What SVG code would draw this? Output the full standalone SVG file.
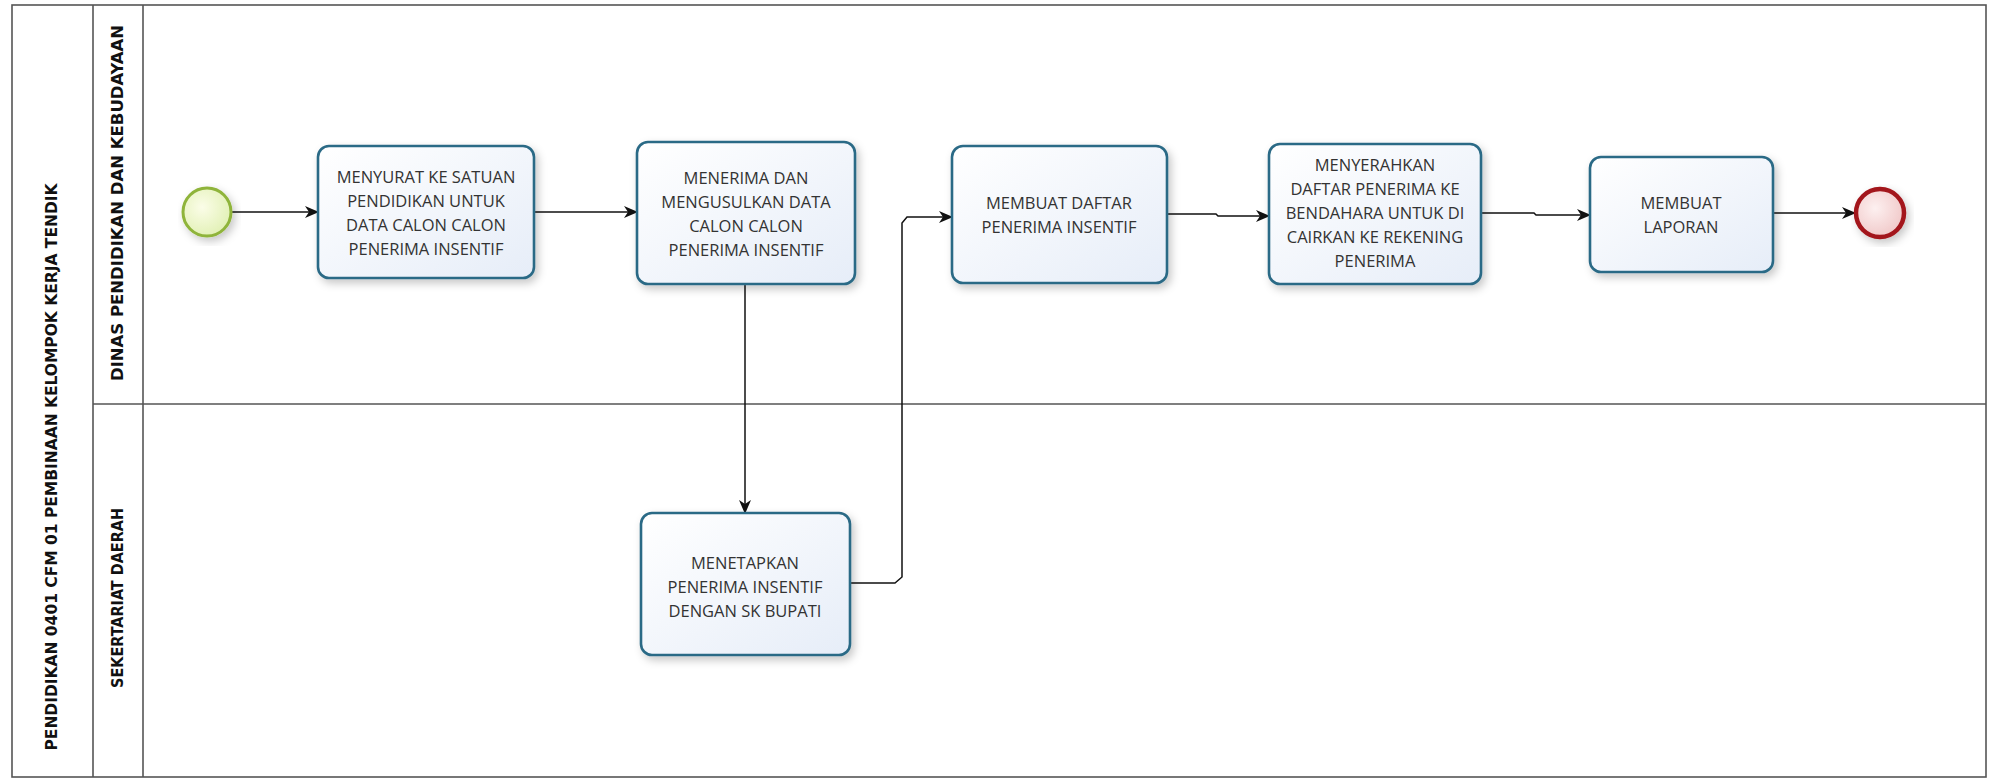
<svg xmlns="http://www.w3.org/2000/svg" width="1992" height="781" viewBox="0 0 1992 781">
<style>
.frame{fill:none;stroke:#555;stroke-width:1.6}
.task{stroke:#2c6a86;stroke-width:2.6;fill:url(#tg)}
.tt{font-family:"Open Sans","Noto Sans","Liberation Sans",sans-serif;font-size:16.5px;fill:#333;text-anchor:middle}
.lbl{font-family:"Liberation Sans Narrow","DejaVu Sans Condensed","Liberation Sans",sans-serif;font-weight:bold;font-size:16px;fill:#111;text-anchor:middle}
.con{fill:none;stroke:#111;stroke-width:1.5}
</style>
<defs>
<linearGradient id="tg" x1="0" y1="0" x2="1" y2="1"><stop offset="0" stop-color="#ffffff"/><stop offset="1" stop-color="#e6edf8"/></linearGradient>
<radialGradient id="sg" cx="0.4" cy="0.4" r="0.7"><stop offset="0" stop-color="#fbfde8"/><stop offset="1" stop-color="#dfefb0"/></radialGradient>
<radialGradient id="eg" cx="0.4" cy="0.4" r="0.7"><stop offset="0" stop-color="#fdf0f0"/><stop offset="1" stop-color="#efc4c4"/></radialGradient>
<filter id="sh" x="-10%" y="-10%" width="130%" height="130%"><feDropShadow dx="3" dy="4" stdDeviation="4" flood-color="#000" flood-opacity="0.22"/></filter>
<marker id="ah" markerWidth="14" markerHeight="12" refX="13" refY="6" orient="auto" markerUnits="userSpaceOnUse"><path d="M0,0 L14,6 L0,12 L4,6 z" fill="#111"/></marker>
</defs>
<g id="pool">
<rect class="frame" x="12" y="5" width="1974" height="772"/>
<line class="frame" x1="93" y1="5" x2="93" y2="777"/>
<line class="frame" x1="143" y1="5" x2="143" y2="777"/>
<line class="frame" x1="93" y1="404" x2="1986" y2="404"/>
<text class="lbl" transform="translate(57,467) rotate(-90)" textLength="567" lengthAdjust="spacingAndGlyphs">PENDIDIKAN 0401 CFM 01 PEMBINAAN KELOMPOK KERJA TENDIK</text>
<text class="lbl" transform="translate(123,203) rotate(-90)" textLength="356" lengthAdjust="spacingAndGlyphs">DINAS PENDIDIKAN DAN KEBUDAYAAN</text>
<text class="lbl" transform="translate(123,598) rotate(-90)" textLength="180" lengthAdjust="spacingAndGlyphs">SEKERTARIAT DAERAH</text>
</g>
<g id="connectors">
<path class="con" d="M232,212 H318" marker-end="url(#ah)"/>
<path class="con" d="M534,212 H637" marker-end="url(#ah)"/>
<path class="con" d="M745,284 V513" marker-end="url(#ah)"/>
<path class="con" d="M850,583 H895 L902,577 V223 L907,217 H952" marker-end="url(#ah)"/>
<path class="con" d="M1167,214 H1216 L1218,216 H1269" marker-end="url(#ah)"/>
<path class="con" d="M1481,213 H1534 L1536,215 H1590" marker-end="url(#ah)"/>
<path class="con" d="M1773,213 H1855" marker-end="url(#ah)"/>
</g>
<g id="start"><circle cx="207" cy="212" r="24" fill="url(#sg)" stroke="#8fb43a" stroke-width="3" filter="url(#sh)"/></g>
<g id="task1"><rect class="task" x="318" y="146" width="216" height="132" rx="11" filter="url(#sh)"/>
<text class="tt" x="426" y="183">MENYURAT KE SATUAN</text><text class="tt" x="426" y="207">PENDIDIKAN UNTUK</text><text class="tt" x="426" y="231">DATA CALON CALON</text><text class="tt" x="426" y="255">PENERIMA INSENTIF</text></g>
<g id="task2"><rect class="task" x="637" y="142" width="218" height="142" rx="11" filter="url(#sh)"/>
<text class="tt" x="746" y="184">MENERIMA DAN</text><text class="tt" x="746" y="208">MENGUSULKAN DATA</text><text class="tt" x="746" y="232">CALON CALON</text><text class="tt" x="746" y="256">PENERIMA INSENTIF</text></g>
<g id="task3"><rect class="task" x="952" y="146" width="215" height="137" rx="11" filter="url(#sh)"/>
<text class="tt" x="1059" y="209">MEMBUAT DAFTAR</text><text class="tt" x="1059" y="233">PENERIMA INSENTIF</text></g>
<g id="task4"><rect class="task" x="1269" y="144" width="212" height="140" rx="11" filter="url(#sh)"/>
<text class="tt" x="1375" y="171">MENYERAHKAN</text><text class="tt" x="1375" y="195">DAFTAR PENERIMA KE</text><text class="tt" x="1375" y="219">BENDAHARA UNTUK DI</text><text class="tt" x="1375" y="243">CAIRKAN KE REKENING</text><text class="tt" x="1375" y="267">PENERIMA</text></g>
<g id="task5"><rect class="task" x="1590" y="157" width="183" height="115" rx="11" filter="url(#sh)"/>
<text class="tt" x="1681" y="209">MEMBUAT</text><text class="tt" x="1681" y="233">LAPORAN</text></g>
<g id="task6"><rect class="task" x="641" y="513" width="209" height="142" rx="11" filter="url(#sh)"/>
<text class="tt" x="745" y="569">MENETAPKAN</text><text class="tt" x="745" y="593">PENERIMA INSENTIF</text><text class="tt" x="745" y="617">DENGAN SK BUPATI</text></g>
<g id="end"><circle cx="1880" cy="213" r="24" fill="url(#eg)" stroke="#a3151b" stroke-width="4.5" filter="url(#sh)"/></g>
</svg>
